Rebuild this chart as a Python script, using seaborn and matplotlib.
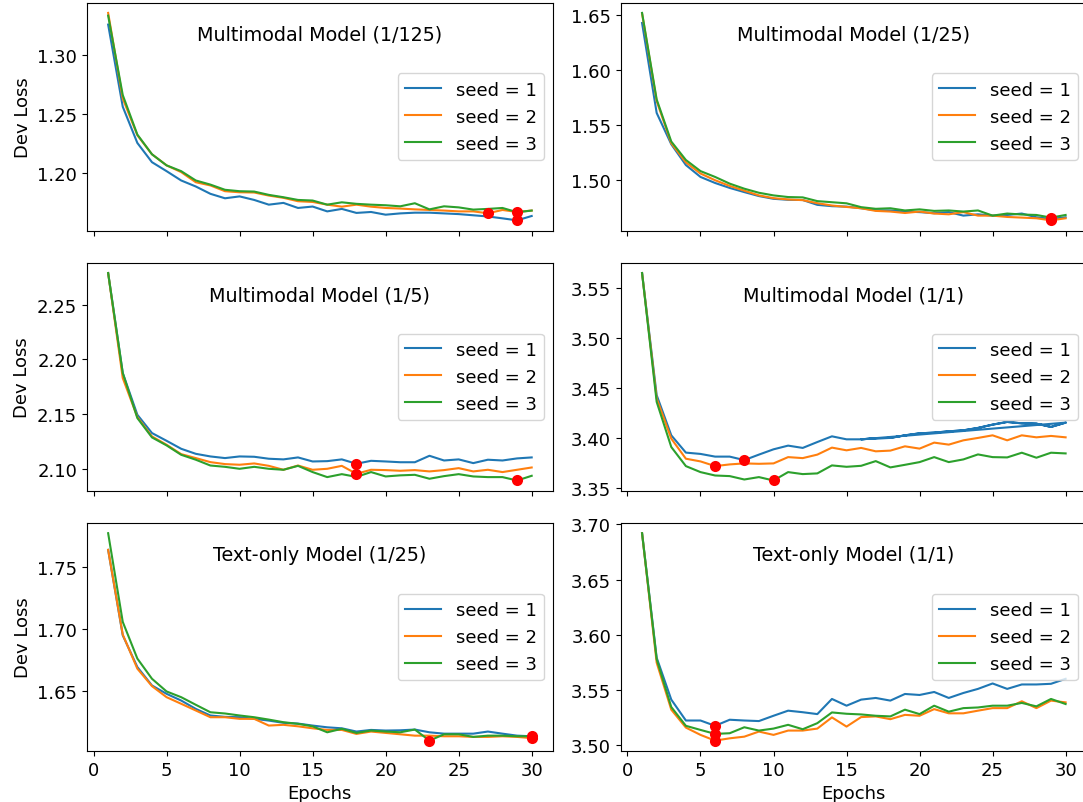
import matplotlib
matplotlib.use("Agg")
import matplotlib.pyplot as plt
import seaborn as sns
import pandas as pd
import numpy as np

epochs = list(range(1, 31))
seed_labels = ["seed = 1", "seed = 2", "seed = 3"]
titles = ["Multimodal Model (1/125)", "Multimodal Model (1/25)",
          "Multimodal Model (1/5)", "Multimodal Model (1/1)",
          "Text-only Model (1/25)", "Text-only Model (1/1)"]

# ---- Multimodal 1/125 ----
mm125_s1 = [1.3256, 1.256, 1.2253, 1.209, 1.2014, 1.1935, 1.1884, 1.1822, 1.1784, 1.180,
            1.177, 1.173, 1.1745, 1.1702, 1.1714, 1.1673, 1.1694, 1.166, 1.1668, 1.1645,
            1.1656, 1.1662, 1.1662, 1.1656, 1.165, 1.164, 1.163, 1.1614, 1.1597, 1.1634]
mm125_s2 = [1.3355, 1.263, 1.2318, 1.2157, 1.2063, 1.2006, 1.192, 1.1893, 1.1844, 1.1835,
            1.1833, 1.1807, 1.1788, 1.1759, 1.1753, 1.173, 1.1713, 1.173, 1.1713, 1.1702,
            1.1697, 1.169, 1.1685, 1.168, 1.1673, 1.1673, 1.1657, 1.1685, 1.1668, 1.168]
mm125_s3 = [1.3332, 1.2659, 1.2324, 1.2157, 1.2063, 1.2014, 1.1935, 1.190, 1.1856, 1.1844,
            1.1841, 1.1813, 1.1793, 1.177, 1.1765, 1.173, 1.175, 1.1737, 1.173, 1.1725,
            1.1716, 1.1742, 1.169, 1.1716, 1.1707, 1.1688, 1.1694, 1.1702, 1.1666, 1.168]

# ---- Multimodal 1/25 ----
mm25_s1 = [1.643, 1.5612, 1.5327, 1.5138, 1.503, 1.4975, 1.493, 1.4892, 1.4856, 1.4831,
           1.4822, 1.482, 1.4776, 1.4764, 1.476, 1.4745, 1.4727, 1.4725, 1.4715, 1.471,
           1.470, 1.471, 1.4678, 1.469, 1.4678, 1.4684, 1.4697, 1.4663, 1.4647, 1.4663]
mm25_s2 = [1.6516, 1.572, 1.5336, 1.5162, 1.5061, 1.500, 1.4948, 1.4905, 1.4862, 1.4837,
           1.4825, 1.4819, 1.4791, 1.477, 1.4757, 1.4745, 1.4721, 1.4715, 1.4702, 1.4715,
           1.4697, 1.469, 1.471, 1.4678, 1.4678, 1.4666, 1.466, 1.4654, 1.4635, 1.4654]
mm25_s3 = [1.6522, 1.5735, 1.5352, 1.5184, 1.5083, 1.503, 1.4969, 1.4923, 1.4886, 1.4862,
           1.4847, 1.4844, 1.481, 1.480, 1.479, 1.4755, 1.474, 1.4745, 1.4725, 1.4735,
           1.4721, 1.4725, 1.4715, 1.4725, 1.4678, 1.4697, 1.4688, 1.4684, 1.4660, 1.4684]

# ---- Multimodal 1/5 ----
mm5_s1 = [2.279, 2.1876, 2.1494, 2.1327, 2.1256, 2.1183, 2.1137, 2.1113, 2.1098, 2.1113,
          2.111, 2.1092, 2.1086, 2.1104, 2.1067, 2.107, 2.1086, 2.1046, 2.1073, 2.1067,
          2.106, 2.106, 2.1119, 2.1076, 2.1086, 2.1052, 2.1083, 2.1076, 2.1095, 2.1104]
mm5_s2 = [2.279, 2.183, 2.1473, 2.1296, 2.122, 2.1134, 2.1098, 2.1061, 2.1043, 2.1037,
          2.1049, 2.1027, 2.0991, 2.103, 2.0991, 2.100, 2.1027, 2.0954, 2.0991, 2.0988,
          2.0982, 2.0988, 2.0976, 2.0988, 2.1006, 2.0976, 2.0991, 2.097, 2.0991, 2.1012]
mm5_s3 = [2.279, 2.1876, 2.1464, 2.1287, 2.1214, 2.1128, 2.1083, 2.103, 2.1018, 2.100,
          2.1018, 2.100, 2.0991, 2.1027, 2.097, 2.0924, 2.0951, 2.0926, 2.097, 2.093,
          2.094, 2.0945, 2.0909, 2.0933, 2.0951, 2.093, 2.0924, 2.0924, 2.0893, 2.0936]

# ---- Multimodal 1/1 (seed 1 log contains a repeated tail from epoch 16) ----
mm1_s1 = [3.5647, 3.4425, 3.4023, 3.385, 3.3837, 3.381, 3.381, 3.3775, 3.383, 3.3883,
          3.392, 3.3897, 3.3956, 3.4013, 3.3983, 3.3983, 3.3993, 3.3997, 3.4023, 3.4043,
          3.405, 3.4063, 3.4073, 3.4097, 3.413, 3.4157, 3.4143, 3.414, 3.4107, 3.415]
mm1_s1_repeat_from = 16
mm1_s2 = [3.5647, 3.4392, 3.399, 3.3789, 3.3762, 3.3715, 3.3732, 3.3742, 3.3738, 3.3742,
          3.3805, 3.3795, 3.383, 3.390, 3.3873, 3.3897, 3.3863, 3.387, 3.3913, 3.389,
          3.395, 3.393, 3.3973, 3.3997, 3.4023, 3.3973, 3.4023, 3.4003, 3.4017, 3.4003]
mm1_s3 = [3.5647, 3.4358, 3.3906, 3.3715, 3.3655, 3.3621, 3.3615, 3.3581, 3.3605, 3.3571,
          3.3655, 3.3635, 3.3642, 3.3722, 3.3708, 3.3718, 3.3765, 3.3702, 3.3728, 3.3755,
          3.3805, 3.3755, 3.3782, 3.3832, 3.3805, 3.3802, 3.3849, 3.3799, 3.3849, 3.3842]

# ---- Text-only 1/25 ----
to25_s1 = [1.7637, 1.6951, 1.6696, 1.6548, 1.6481, 1.6427, 1.636, 1.6307, 1.6296, 1.6293,
           1.628, 1.6266, 1.6248, 1.6242, 1.6226, 1.6212, 1.6204, 1.6178, 1.6191, 1.6186,
           1.6188, 1.6194, 1.6172, 1.6161, 1.6161, 1.6161, 1.6178, 1.6161, 1.6145, 1.614]
to25_s2 = [1.7637, 1.6957, 1.6683, 1.6543, 1.6454, 1.6401, 1.6347, 1.6293, 1.6293, 1.628,
           1.628, 1.6226, 1.6232, 1.622, 1.6204, 1.6191, 1.6191, 1.6159, 1.6178, 1.6167,
           1.6156, 1.6145, 1.6145, 1.614, 1.614, 1.6135, 1.6135, 1.614, 1.6135, 1.6125]
to25_s3 = [1.7771, 1.7059, 1.6764, 1.6602, 1.650, 1.6454, 1.6393, 1.6333, 1.6323, 1.6307,
           1.6293, 1.6274, 1.6253, 1.624, 1.622, 1.6172, 1.620, 1.6167, 1.6186, 1.6178,
           1.6172, 1.6194, 1.6105, 1.6156, 1.6156, 1.6135, 1.6145, 1.6145, 1.614, 1.614]

# ---- Text-only 1/1 ----
to1_s1 = [3.6919, 3.5793, 3.5414, 3.5225, 3.5225, 3.5177, 3.5232, 3.5225, 3.522, 3.5268,
          3.5314, 3.530, 3.5283, 3.542, 3.5359, 3.5414, 3.5429, 3.5405, 3.5465, 3.5456,
          3.5483, 3.5429, 3.5474, 3.5511, 3.556, 3.5511, 3.5551, 3.5551, 3.5557, 3.5602]
to1_s2 = [3.6919, 3.5748, 3.5323, 3.5161, 3.5095, 3.5043, 3.5064, 3.5079, 3.5125, 3.5095,
          3.5134, 3.5134, 3.5152, 3.5253, 3.517, 3.5256, 3.5262, 3.5237, 3.5276, 3.5268,
          3.5328, 3.529, 3.529, 3.5314, 3.5337, 3.5337, 3.5399, 3.5337, 3.5405, 3.5389]
to1_s3 = [3.6919, 3.5779, 3.5347, 3.5177, 3.514, 3.5104, 3.511, 3.5164, 3.5134, 3.5152,
          3.5186, 3.5146, 3.5201, 3.5298, 3.5286, 3.528, 3.5268, 3.5262, 3.5323, 3.5283,
          3.5359, 3.5305, 3.5337, 3.5343, 3.5359, 3.5359, 3.5384, 3.5353, 3.542, 3.5374]


def seed_frame(vals, label, extra_from=None):
    ep = list(epochs)
    v = list(vals)
    if extra_from is not None:
        ep = ep + epochs[extra_from - 1:]
        v = v + vals[extra_from - 1:]
    return pd.DataFrame({"Epochs": ep, "Dev Loss": v, "seed": label})


panels = [
    [seed_frame(mm125_s1, seed_labels[0]), seed_frame(mm125_s2, seed_labels[1]), seed_frame(mm125_s3, seed_labels[2])],
    [seed_frame(mm25_s1, seed_labels[0]), seed_frame(mm25_s2, seed_labels[1]), seed_frame(mm25_s3, seed_labels[2])],
    [seed_frame(mm5_s1, seed_labels[0]), seed_frame(mm5_s2, seed_labels[1]), seed_frame(mm5_s3, seed_labels[2])],
    [seed_frame(mm1_s1, seed_labels[0], mm1_s1_repeat_from), seed_frame(mm1_s2, seed_labels[1]), seed_frame(mm1_s3, seed_labels[2])],
    [seed_frame(to25_s1, seed_labels[0]), seed_frame(to25_s2, seed_labels[1]), seed_frame(to25_s3, seed_labels[2])],
    [seed_frame(to1_s1, seed_labels[0]), seed_frame(to1_s2, seed_labels[1]), seed_frame(to1_s3, seed_labels[2])],
]

palette = dict(zip(seed_labels, sns.color_palette("tab10", 3)))
FS = 13
TITLE_FS = 13.8
plt.rcParams.update({"font.size": FS, "xtick.labelsize": FS, "ytick.labelsize": FS,
                     "axes.labelsize": FS, "legend.fontsize": FS})

fig, axes = plt.subplots(3, 2, figsize=(10.83, 8.03), dpi=100, sharex=True)
fig.subplots_adjust(left=0.0803, right=1.0035, top=0.9956, bottom=0.0635,
                    hspace=0.14, wspace=0.146)

for i, (ax, frames, title) in enumerate(zip(axes.flat, panels, titles)):
    df = pd.concat(frames, ignore_index=True)
    sns.lineplot(data=df, x="Epochs", y="Dev Loss", hue="seed", palette=palette,
                 estimator=None, sort=False, linewidth=1.5, ax=ax)
    mins = pd.DataFrame([f.loc[f["Dev Loss"].idxmin(), ["Epochs", "Dev Loss"]] for f in frames])
    sns.scatterplot(data=mins, x="Epochs", y="Dev Loss", color="red", s=64,
                    linewidth=0, ax=ax, legend=False, zorder=3)
    ax.text(0.5, 0.86, title, transform=ax.transAxes, ha="center", va="center",
            fontsize=TITLE_FS)
    ax.legend(loc="center right", fontsize=FS)
    ax.set_xticks([0, 5, 10, 15, 20, 25, 30])
    ax.set_ylabel("Dev Loss" if i % 2 == 0 else "")
    ax.set_xlabel("Epochs" if i >= 4 else "")

fig.savefig("out.png", dpi=100)
